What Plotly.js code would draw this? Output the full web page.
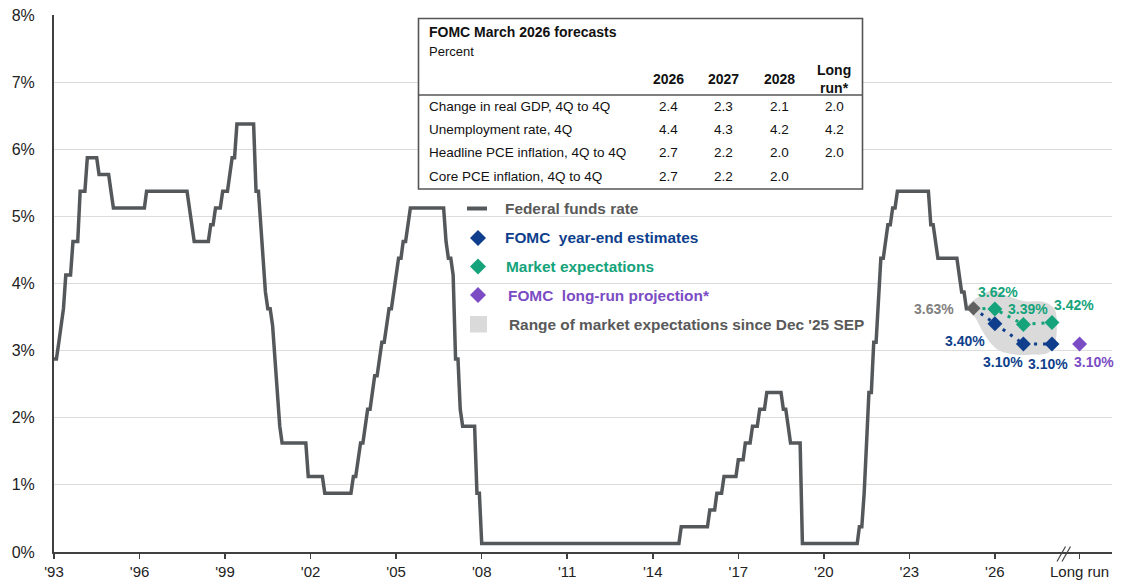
<!DOCTYPE html>
<html><head><meta charset="utf-8">
<script src="https://cdn.plot.ly/plotly-3.0.1.min.js"></script>
<style>html,body{margin:0;padding:0;background:#fff;} #chart{width:1123px;height:580px;}</style>
</head><body><div id="chart"></div><script>
// ---------------- DATA ----------------
const ffrMonths = ['1993-12','1994-01','1994-02','1994-03','1994-04','1994-05','1994-07','1994-08','1994-10','1994-11',
'1995-01','1995-02','1995-06','1995-07','1995-11','1995-12','1996-01','1997-02','1997-03','1998-08','1998-09','1998-10','1998-11',
'1999-05','1999-06','1999-07','1999-08','1999-10','1999-11','2000-01','2000-02','2000-03','2000-04','2000-05','2000-12',
'2001-01','2001-02','2001-03','2001-04','2001-05','2001-06','2001-07','2001-08','2001-09','2001-10','2001-11','2001-12',
'2002-10','2002-11','2003-05','2003-06','2004-05','2004-06','2004-07','2004-08','2004-09','2004-10','2004-11','2004-12',
'2005-01','2005-02','2005-03','2005-04','2005-05','2005-06','2005-07','2005-08','2005-09','2005-10','2005-11','2005-12',
'2006-01','2006-02','2006-03','2006-04','2006-05','2006-06','2007-08','2007-09','2007-10','2007-11','2007-12',
'2008-01','2008-02','2008-03','2008-04','2008-09','2008-10','2008-11','2008-12',
'2015-11','2015-12','2016-11','2016-12','2017-02','2017-03','2017-05','2017-06','2017-11','2017-12',
'2018-02','2018-03','2018-05','2018-06','2018-08','2018-09','2018-11','2018-12','2019-06','2019-07','2019-08','2019-09','2019-10',
'2020-02','2020-03','2022-02','2022-03','2022-04','2022-05','2022-06','2022-07','2022-08','2022-09','2022-10','2022-11','2022-12',
'2023-01','2023-02','2023-03','2023-04','2023-05','2023-06','2023-07','2024-08','2024-09','2024-10','2024-11','2024-12',
'2025-08','2025-09','2025-10','2025-11','2025-12','2026-03'];
const ffrValues = [2.875,2.875,3.125,3.375,3.625,4.125,4.125,4.625,4.625,5.375,
5.375,5.875,5.875,5.625,5.625,5.375,5.125,5.125,5.375,5.375,5.125,4.875,4.625,
4.625,4.875,4.875,5.125,5.125,5.375,5.375,5.625,5.875,5.875,6.375,6.375,
5.375,5.375,4.875,4.375,3.875,3.625,3.625,3.375,2.875,2.375,1.875,1.625,
1.625,1.125,1.125,0.875,0.875,1.125,1.125,1.375,1.625,1.625,1.875,2.125,
2.125,2.375,2.625,2.625,2.875,3.125,3.125,3.375,3.625,3.625,3.875,4.125,
4.375,4.375,4.625,4.625,4.875,5.125,5.125,4.625,4.375,4.375,4.125,
2.875,2.875,2.125,1.875,1.875,0.875,0.875,0.125,
0.125,0.375,0.375,0.625,0.625,0.875,0.875,1.125,1.125,1.375,
1.375,1.625,1.625,1.875,1.875,2.125,2.125,2.375,2.375,2.125,2.125,1.875,1.625,
1.625,0.125,0.125,0.375,0.375,0.875,1.625,2.375,2.375,3.125,3.125,3.875,4.375,
4.375,4.625,4.875,4.875,5.125,5.125,5.375,5.375,4.875,4.875,4.625,4.375,
4.375,4.125,3.875,3.875,3.625,3.625];

const currentMonth = '2026-03';
const currentRate = 3.63;
const forecastMonths = ['2026-12','2027-12','2028-12'];
const fomcEstimates = [3.40, 3.10, 3.10];
const marketExpectations = [3.62, 3.39, 3.42];
const longRunMonth = '2029-11-20';
const longRunProjection = 3.10;

const rangeMonths = ['2025-12','2026-05','2026-11','2027-05','2027-12','2028-09','2029-01','2029-02','2029-01','2028-10','2028-03','2027-09','2027-02','2026-11','2026-08','2026-04'];
const rangeValues = [3.66,3.80,3.90,3.82,3.74,3.72,3.62,3.40,3.08,2.96,2.94,2.94,3.00,3.08,3.22,3.48];

const tickYears = ['1993','1996','1999','2002','2005','2008','2011','2014','2017','2020','2023','2026'];
const tickLabels = ["'93","'96","'99","'02","'05","'08","'11","'14","'17","'20","'23","'26"];
const longRunLabel = 'Long run';

const tableTitle = 'FOMC March 2026 forecasts';
const tableUnit = 'Percent';
const tableCols = ['2026','2027','2028','Long<br>run*'];
const tableRows = ['Change in real GDP, 4Q to 4Q','Unemployment rate, 4Q','Headline PCE inflation, 4Q to 4Q','Core PCE inflation, 4Q to 4Q'];
const tableVals = [['2.4','2.3','2.1','2.0'],['4.4','4.3','4.2','4.2'],['2.7','2.2','2.0','2.0'],['2.7','2.2','2.0','']];

const legendLabels = ['Federal funds rate','FOMC  year-end estimates','Market expectations','FOMC  long-run projection*',"Range of market expectations since Dec '25 SEP"];

// ---------------- STYLE ----------------
const FONT = '"Liberation Sans", Arial, sans-serif';
const C_FFR = '#55585b', C_GREY_D = '#606060', C_GREY_T = '#808080';
const C_BLUE = '#0f3f8c', C_GREEN = '#14a37a', C_PURPLE = '#7b4cc4', C_RANGE = '#dadada';
const L = 54, R = 11, T = 15, B = 28, W = 1123, H = 580;
const PW = W - L - R, PH = H - T - B;
const px = x => (x - L) / PW;
const py = y => (H - B - y) / PH;
const d = m => m.length === 7 ? m + '-01' : m;

// ---------------- TRACES ----------------
const traces = [];
traces.push({x: rangeMonths.map(d), y: rangeValues, type: 'scatter', mode: 'lines', fill: 'toself',
  fillcolor: C_RANGE, line: {width: 0, shape: 'spline', smoothing: 1.0, color: C_RANGE}, hoverinfo: 'skip', showlegend: false});
traces.push({x: ffrMonths.map(d), y: ffrValues, type: 'scatter', mode: 'lines',
  line: {color: C_FFR, width: 3.5}, showlegend: false});
traces.push({x: [d(currentMonth)].concat(forecastMonths.map(d)), y: [currentRate].concat(marketExpectations),
  type: 'scatter', mode: 'lines', line: {color: C_GREEN, width: 3, dash: '3px,6px'}, showlegend: false});
traces.push({x: [d(currentMonth)].concat(forecastMonths.map(d)), y: [currentRate].concat(fomcEstimates),
  type: 'scatter', mode: 'lines', line: {color: C_BLUE, width: 3, dash: '3px,6px'}, showlegend: false});
traces.push({x: [d(currentMonth)], y: [currentRate], type: 'scatter', mode: 'markers',
  marker: {symbol: 'diamond', size: 11, color: C_GREY_D}, showlegend: false});
traces.push({x: forecastMonths.map(d), y: marketExpectations, type: 'scatter', mode: 'markers',
  marker: {symbol: 'diamond', size: 11.5, color: C_GREEN}, showlegend: false});
traces.push({x: forecastMonths.map(d), y: fomcEstimates, type: 'scatter', mode: 'markers',
  marker: {symbol: 'diamond', size: 11.5, color: C_BLUE}, showlegend: false});
traces.push({x: [longRunMonth], y: [longRunProjection], type: 'scatter', mode: 'markers',
  marker: {symbol: 'diamond', size: 11.5, color: C_PURPLE}, showlegend: false});

// ---------------- ANNOTATIONS ----------------
const ann = [];
const lbl = (x, y, text, color, xs, ys, xa) => ann.push({x: x, y: y, xref: 'x', yref: 'y', text: text, showarrow: false,
  xshift: xs, yshift: ys, xanchor: xa || 'center', font: {family: FONT, size: 14, color: color, weight: 'bold'}});
const pct = v => v.toFixed(2) + '%';
lbl(d(currentMonth), currentRate, pct(currentRate), C_GREY_T, -17, -1, 'right');
const gOff = [[3, 17], [5, 15], [22, 17]];
const bOff = [[-30, -17], [-20, -18], [-4, -20]];
forecastMonths.forEach((m, i) => {
  lbl(d(m), marketExpectations[i], pct(marketExpectations[i]), C_GREEN, gOff[i][0], gOff[i][1]);
  lbl(d(m), fomcEstimates[i], pct(fomcEstimates[i]), C_BLUE, bOff[i][0], bOff[i][1]);
});
lbl(longRunMonth, longRunProjection, pct(longRunProjection), C_PURPLE, 14, -18);

const txt = (x, y, text, size, color, bold, xa) => ann.push({x: px(x), y: py(y), xref: 'paper', yref: 'paper', text: text,
  showarrow: false, xanchor: xa || 'left', yanchor: 'middle', align: 'center',
  font: {family: FONT, size: size, color: color, weight: bold ? 'bold' : 'normal'}});
// table
txt(427, 31.5, tableTitle, 14, '#111', true);
txt(427, 51, tableUnit, 13, '#111', false);
const colX = [668, 723, 779, 834];
const rowY = [106, 129.5, 153, 176.5];
tableCols.forEach((c, j) => txt(colX[j], 78.5, c, 14, '#111', true, 'center'));
tableRows.forEach((r, i) => {
  txt(427, rowY[i], r, 13.5, '#111', false);
  tableVals[i].forEach((v, j) => { if (v) txt(colX[j], rowY[i], v, 13.5, '#111', false, 'center'); });
});
// legend
const legY = [208.5, 238, 266.5, 295.5, 324.5];
const legX = [503, 503, 504, 506, 507];
const legC = ['#595959', C_BLUE, C_GREEN, C_PURPLE, '#595959'];
legendLabels.forEach((t, i) => txt(legX[i], legY[i], t, 15.4, legC[i], true));

// ---------------- SHAPES ----------------
const shapes = [];
shapes.push({type: 'rect', xref: 'paper', yref: 'paper', x0: px(418.5), x1: px(862.5), y0: py(18.5), y1: py(189),
  line: {color: '#555', width: 1.6}, fillcolor: '#fff', layer: 'above'});
shapes.push({type: 'line', xref: 'paper', yref: 'paper', x0: px(418.5), x1: px(862.5), y0: py(95), y1: py(95),
  line: {color: '#555', width: 1.4}});
shapes.push({type: 'line', xref: 'paper', yref: 'paper', x0: px(467), x1: px(487), y0: py(208.5), y1: py(208.5),
  line: {color: C_FFR, width: 4}});
const diamond = (cx, cy, r, col) => {
  const p = `M${px(cx)},${py(cy - r)} L${px(cx + r)},${py(cy)} L${px(cx)},${py(cy + r)} L${px(cx - r)},${py(cy)} Z`;
  shapes.push({type: 'path', xref: 'paper', yref: 'paper', path: p, fillcolor: col, line: {width: 0}});
};
diamond(478, 238, 8, C_BLUE);
diamond(478, 266.5, 8, C_GREEN);
diamond(478, 295, 8, C_PURPLE);
shapes.push({type: 'rect', xref: 'paper', yref: 'paper', x0: px(470), x1: px(487), y0: py(332.5), y1: py(316),
  fillcolor: C_RANGE, line: {width: 0}});
// axis break marks
[[1057, 1065.5], [1062, 1070.5]].forEach(s => shapes.push({type: 'line', xref: 'paper', yref: 'paper',
  x0: px(s[0]), y0: py(561.5), x1: px(s[1]), y1: py(546.5), line: {color: '#444', width: 1.2}}));

// ---------------- LAYOUT ----------------
const layout = {
  width: W, height: H, margin: {l: L, r: R, t: T, b: B, pad: 0},
  paper_bgcolor: '#fff', plot_bgcolor: '#fff', showlegend: false,
  font: {family: FONT, color: '#222'},
  xaxis: {type: 'date', range: ['1993-12-01', '2031-01-09'], tickvals: tickYears.map(y => y + '-12-01').concat([longRunMonth]),
    ticktext: tickLabels.concat([longRunLabel]), ticks: 'outside', ticklen: 5, tickwidth: 1.5, tickcolor: '#404040',
    showline: true, linecolor: '#404040', linewidth: 1.6, showgrid: false, zeroline: false,
    tickfont: {family: FONT, size: 15, color: '#222'}},
  yaxis: {range: [0, 8], dtick: 1, tick0: 0, ticksuffix: '%', ticks: '', showline: true, linecolor: '#404040', linewidth: 2,
    gridcolor: '#dcdcdc', gridwidth: 1, zeroline: false, ticklabelstandoff: 14,
    tickfont: {family: FONT, size: 16, color: '#222'}},
  annotations: ann, shapes: shapes
};
Plotly.newPlot('chart', traces, layout, {displayModeBar: false, staticPlot: true});
</script></body></html>
